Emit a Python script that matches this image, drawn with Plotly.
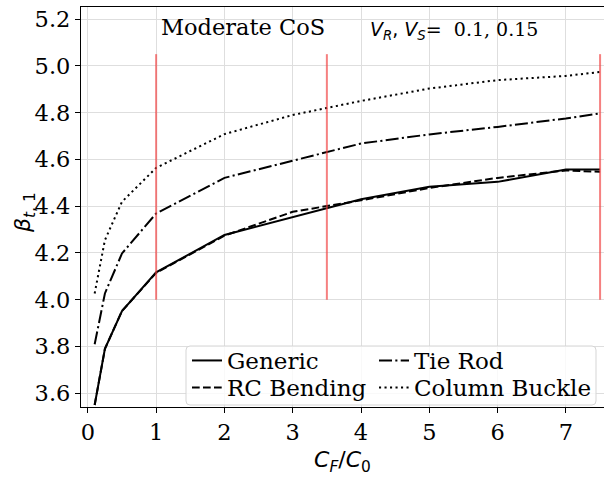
import plotly.graph_objects as go

# ---- data ----
cf_c0 = [0.1, 0.25, 0.5, 1, 2, 3, 4, 5, 6, 7, 7.5]
generic = [3.55, 3.79, 3.952, 4.117, 4.277, 4.355, 4.43, 4.483, 4.504, 4.557, 4.557]
rc_bending = [3.55, 3.79, 3.952, 4.115, 4.274, 4.376, 4.425, 4.478, 4.521, 4.553, 4.547]
tie_rod = [3.81, 4.027, 4.198, 4.369, 4.521, 4.595, 4.668, 4.707, 4.739, 4.775, 4.797]
column_buckle = [4.027, 4.255, 4.419, 4.564, 4.708, 4.79, 4.85, 4.903, 4.939, 4.957, 4.974]

marker_x = [1, 3.5, 7.5]
marker_y_span = [4.0, 5.05]

x_ticks = [0, 1, 2, 3, 4, 5, 6, 7]
y_ticks = [3.6, 3.8, 4.0, 4.2, 4.4, 4.6, 4.8, 5.0, 5.2]

SERIF = "DejaVu Serif"
SANS = "DejaVu Sans"

W, H = 604, 477
ML, MR, MT, MB = 81, 0, 7, 70
PW, PH = W - ML - MR, H - MT - MB


def px_x(p):
    return (p - ML) / PW


def px_y(p):
    return (H - MB - p) / PH


fig = go.Figure()

# name, values, dash, legend id
series = [
    ("Generic", generic, "solid", "legend"),
    ("RC Bending", rc_bending, "7.7px,3.3px", "legend3"),
    ("Tie Rod", tie_rod, "13px,3.3px,2.1px,3.3px", "legend2"),
    ("Column Buckle", column_buckle, "2.1px,3.4px", "legend4"),
]
for name, vals, dash, lg in series:
    fig.add_trace(go.Scatter(
        x=cf_c0, y=vals, mode="lines", name=name,
        line=dict(color="black", width=2, dash=dash),
        legend=lg,
    ))

for xv in marker_x:
    fig.add_trace(go.Scatter(
        x=[xv, xv], y=marker_y_span, mode="lines", showlegend=False,
        line=dict(color="rgba(240,60,60,0.65)", width=2), hoverinfo="skip",
    ))

# legend background box (rounded)
bx0, bx1 = px_x(186), px_x(596)
by0, by1 = px_y(405), px_y(346)
rx, ry = 4 / PW, 4 / PH
path = (f"M {bx0+rx},{by1} L {bx1-rx},{by1} Q {bx1},{by1} {bx1},{by1-ry} "
        f"L {bx1},{by0+ry} Q {bx1},{by0} {bx1-rx},{by0} "
        f"L {bx0+rx},{by0} Q {bx0},{by0} {bx0},{by0+ry} "
        f"L {bx0},{by1-ry} Q {bx0},{by1} {bx0+rx},{by1} Z")
fig.add_shape(type="path", path=path, xref="paper", yref="paper",
              line=dict(color="#d5d5d5", width=1),
              fillcolor="rgba(255,255,255,0.8)", layer="above")

leg_common = dict(bgcolor="rgba(0,0,0,0)", borderwidth=0,
                  font=dict(family=SERIF, size=23, color="black"),
                  xanchor="left", yanchor="top", tracegroupgap=0,
                  itemwidth=30)

col1, col2 = 187, 374
row1, row2 = 339, 366

fig.update_layout(
    width=W, height=H,
    margin=dict(l=ML, r=MR, t=MT, b=MB),
    paper_bgcolor="white", plot_bgcolor="white",
    font=dict(family=SERIF, size=22, color="black"),
    legend=dict(x=px_x(col1), y=px_y(row1), **leg_common),
    legend2=dict(x=px_x(col2), y=px_y(row1), **leg_common),
    legend3=dict(x=px_x(col1), y=px_y(row2), **leg_common),
    legend4=dict(x=px_x(col2), y=px_y(row2), **leg_common),
    xaxis=dict(
        range=[-0.1, -0.1 + PW / 68.3],
        tickvals=x_ticks, ticktext=[str(v) for v in x_ticks],
        showgrid=True, gridcolor="#dedede", gridwidth=1,
        zeroline=False, showline=True, linecolor="black", linewidth=1.2,
        mirror=True, ticks="outside", ticklen=5, tickwidth=1.2, tickcolor="black",
        tickfont=dict(family=SERIF, size=22.5, color="black"),
    ),
    yaxis=dict(
        range=[3.5415, 3.5415 + PH / 233.9],
        tickvals=y_ticks, ticktext=[f"{v:.1f}" for v in y_ticks],
        showgrid=True, gridcolor="#dedede", gridwidth=1,
        zeroline=False, showline=True, linecolor="black", linewidth=1.2,
        mirror=False, ticks="outside", ticklen=5, tickwidth=1.2, tickcolor="black",
        tickfont=dict(family=SERIF, size=22.5, color="black"),
    ),
    showlegend=True,
)

fig.add_annotation(
    text="Moderate CoS", x=1.04, y=5.167, xref="x", yref="y",
    xanchor="left", yanchor="middle", showarrow=False,
    font=dict(family=SERIF, size=22.5, color="black"),
)
fig.add_annotation(
    text=(f"<span style='font-family:{SANS}'><i>V</i><sub><i>R</i></sub>, "
          f"<i>V</i><sub><i>S</i></sub>= </span> 0.1, 0.15"),
    x=4.1, y=5.153, xref="x", yref="y",
    xanchor="left", yanchor="middle", showarrow=False,
    font=dict(family=SERIF, size=19, color="black"),
)
fig.add_annotation(
    text="<i>β</i><sub><i>t</i>, 1</sub>", x=px_x(24), y=px_y(213),
    xref="paper", yref="paper", textangle=-90, showarrow=False,
    xanchor="center", yanchor="middle",
    font=dict(family=SANS, size=22, color="black"),
)
fig.add_annotation(
    text="<i>C</i><sub><i>F</i></sub>/<i>C</i><sub>0</sub>", x=px_x(342), y=px_y(461),
    xref="paper", yref="paper", showarrow=False,
    xanchor="center", yanchor="middle",
    font=dict(family=SANS, size=22, color="black"),
)

fig.write_html("out.html")
